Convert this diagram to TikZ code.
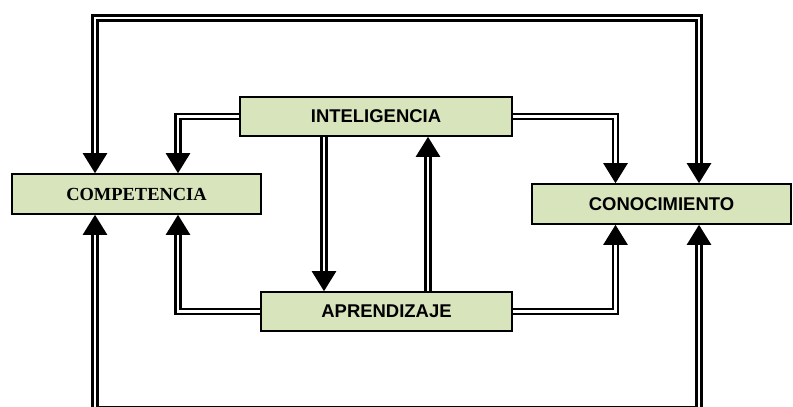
\documentclass[tikz,border=0pt]{standalone}
\usepackage{fontspec}
\setmainfont{Liberation Sans}
\newfontfamily\boxserif{Liberation Serif}
\definecolor{boxgreen}{RGB}{216, 228, 188}
\usetikzlibrary{arrows.meta}

\begin{document}
\begin{tikzpicture}[x=0.02cm, y=-0.02cm,
    concept/.style={draw=black, line width=0.9pt, fill=boxgreen, inner sep=0pt,
        font=\fontsize{10.5}{12}\selectfont\bfseries},
    link/.style={double=white, line width=1.4pt, double distance=1.4pt},
    tip/.style={-{Triangle[width=0.48cm, length=0.4cm]}},
    tips/.style={{Triangle[width=0.48cm, length=0.4cm]}-{Triangle[width=0.48cm, length=0.4cm]}}]
    \useasboundingbox (0,0) rectangle (793,406);

    % Boxes
    \node[concept, minimum width=4.98cm, minimum height=0.8cm] (comp) at (136.5,194)
        {\boxserif\bfseries COMPETENCIA};
    \node[concept, minimum width=5.44cm, minimum height=0.78cm] (intel) at (376,116.5) {INTELIGENCIA};
    \node[concept, minimum width=5.02cm, minimum height=0.78cm] (apren) at (386.5,311.5) {APRENDIZAJE};
    \node[concept, minimum width=5.18cm, minimum height=0.8cm] (conoc) at (661.5,204) {CONOCIMIENTO};

    % Corners and columns
    \coordinate (topl) at (95,18);
    \coordinate (topr) at (699,18);
    \coordinate (botl) at (95,409.5);
    \coordinate (botr) at (699,409.5);
    \coordinate (cx) at (178,0);
    \coordinate (dx) at (324,0);
    \coordinate (ux) at (428,0);
    \coordinate (rx) at (615.5,0);

    % Outer loops
    \draw[link, tips] (comp.north -| topl) -- (topl) -- (topr) -- (conoc.north -| topr);
    \draw[link, tips] (comp.south -| botl) -- (botl) -- (botr) -- (conoc.south -| botr);

    % Inteligencia
    \draw[link, tip] (intel.west) -| (comp.north -| cx);
    \draw[link, tip] (intel.east) -| (conoc.north -| rx);
    \draw[link, tip] (intel.south -| dx) -- (apren.north -| dx);

    % Aprendizaje
    \draw[link, tip] (apren.west) -| (comp.south -| cx);
    \draw[link, tip] (apren.east) -| (conoc.south -| rx);
    \draw[link, tip] (apren.north -| ux) -- (intel.south -| ux);
\end{tikzpicture}
\end{document}
